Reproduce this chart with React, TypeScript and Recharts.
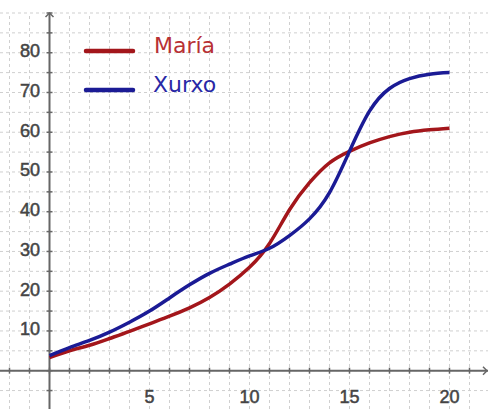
import React from 'react';
import { LineChart, Line, XAxis, YAxis, ReferenceLine, ReferenceDot, Legend } from 'recharts';

// x values (days) and the two series
const xs = [0, 1, 2, 3, 4, 5, 6, 7, 8, 9, 10, 11, 12, 13, 14, 15, 16, 17, 18, 19, 20];
const maria = [3.3, 5, 6.4, 8.1, 9.9, 11.8, 13.7, 15.8, 18.4, 21.8, 26, 32, 40.5, 47.3, 52.3, 55.2, 57.3, 58.9, 60, 60.6, 61];
const xurxo = [3.8, 5.8, 7.6, 9.7, 12.2, 15, 18.3, 21.6, 24.5, 26.8, 28.9, 30.8, 34, 38.2, 44.8, 55.2, 65.3, 71, 73.5, 74.6, 75];

const xLabels = [5, 10, 15, 20];
const yLabels = [10, 20, 30, 40, 50, 60, 70, 80];
const xGrid = [-2, -1, 0, 1, 2, 3, 4, 5, 6, 7, 8, 9, 10, 11, 12, 13, 14, 15, 16, 17, 18, 19, 20, 21];
const yGrid = [-5, 0, 5, 10, 15, 20, 25, 30, 35, 40, 45, 50, 55, 60, 65, 70, 75, 80, 85, 90];

const data = xs.map((x, i) => ({ x, maria: maria[i], xurxo: xurxo[i] }));

const RED = '#a3161b';
const BLUE = '#1b1b95';
const AXIS = '#666';
const GRID = '#cfcfcf';
const LABEL = '#444';
const FONT = '"Liberation Sans", Arial, sans-serif';

const LegendBox = () => (
  <svg width={150} height={70} style={{ display: 'block' }}>
    <line x1={6} y1={21} x2={53} y2={21} stroke={RED} strokeWidth={4.5} strokeLinecap="round" />
    <text x={74} y={23} fontSize={22} fill="#b83034" fontFamily='"DejaVu Sans", Verdana, sans-serif'>María</text>
    <line x1={6} y1={60} x2={53} y2={60} stroke={BLUE} strokeWidth={4.5} strokeLinecap="round" />
    <text x={73} y={61.5} fontSize={22} fill="#2828a6" fontFamily='"DejaVu Sans", Verdana, sans-serif'>Xurxo</text>
  </svg>
);

export default function App() {
  return (
    <div style={{ position: 'absolute', left: 0, top: 0, background: '#fff' }}>
      <LineChart width={488} height={409} data={data} margin={{ top: 13, right: 0, bottom: 0, left: 0 }}>
        <XAxis type="number" dataKey="x" domain={[-2.475, 21.925]} ticks={xGrid} allowDataOverflow
          height={0} tick={false} axisLine={false} tickLine={false} />
        <YAxis type="number" domain={[-9.64, 90]} ticks={yGrid} allowDataOverflow
          width={0} tick={false} axisLine={false} tickLine={false} />
        {/* dashed background grid */}
        {xGrid.map(t => (
          <ReferenceLine key={'gx' + t} x={t} stroke={GRID} strokeDasharray="3 3" />
        ))}
        {yGrid.map(t => (
          <ReferenceLine key={'gy' + t} y={t} stroke={GRID} strokeDasharray="3 3" />
        ))}
        <ReferenceLine x={0} stroke={AXIS} strokeWidth={2} />
        <ReferenceLine y={0} stroke={AXIS} strokeWidth={2} />
        {xGrid.map(t => (
          <ReferenceDot key={'xt' + t} x={t} y={0} r={0} ifOverflow="visible"
            shape={(p: any) => <line x1={p.cx} y1={p.cy - 3} x2={p.cx} y2={p.cy + 3} stroke={AXIS} strokeWidth={1.5} />} />
        ))}
        {yGrid.map(t => (
          <ReferenceDot key={'yt' + t} x={0} y={t} r={0} ifOverflow="visible"
            shape={(p: any) => <line x1={p.cx - 3} y1={p.cy} x2={p.cx + 3} y2={p.cy} stroke={AXIS} strokeWidth={1.5} />} />
        ))}
        {xLabels.map(t => (
          <ReferenceDot key={'xl' + t} x={t} y={0} r={0} ifOverflow="visible"
            shape={(p: any) => (
              <text x={p.cx} y={p.cy + 32} textAnchor="middle" fontSize={18} fill={LABEL} stroke={LABEL} strokeWidth={0.5} fontFamily={FONT}>{t}</text>
            )} />
        ))}
        {yLabels.map(t => (
          <ReferenceDot key={'yl' + t} x={0} y={t} r={0} ifOverflow="visible"
            shape={(p: any) => (
              <text x={p.cx - 9.5} y={p.cy + 4.5} textAnchor="end" fontSize={18} fill={LABEL} stroke={LABEL} strokeWidth={0.5} fontFamily={FONT}>{t}</text>
            )} />
        ))}
        <ReferenceDot x={0} y={90} r={0} ifOverflow="visible"
          shape={(p: any) => <path d={`M${p.cx - 4},${p.cy + 4} L${p.cx},${p.cy} L${p.cx + 4},${p.cy + 4}`} fill="none" stroke={AXIS} strokeWidth={1.5} />} />
        <ReferenceDot x={21.925} y={0} r={0} ifOverflow="visible"
          shape={(p: any) => <path d={`M${p.cx - 5},${p.cy - 4} L${p.cx - 1},${p.cy} L${p.cx - 5},${p.cy + 4}`} fill="none" stroke={AXIS} strokeWidth={1.5} />} />
        <Line type="natural" dataKey="maria" name="María" stroke={RED} strokeWidth={3.5} dot={false} isAnimationActive={false} />
        <Line type="natural" dataKey="xurxo" name="Xurxo" stroke={BLUE} strokeWidth={3.5} dot={false} isAnimationActive={false} />
        <Legend layout="horizontal" align="center" verticalAlign="middle" width={150} height={70}
          wrapperStyle={{ left: 80, top: 30, width: 150, height: 70 }} content={() => <LegendBox />} />
      </LineChart>
    </div>
  );
}
